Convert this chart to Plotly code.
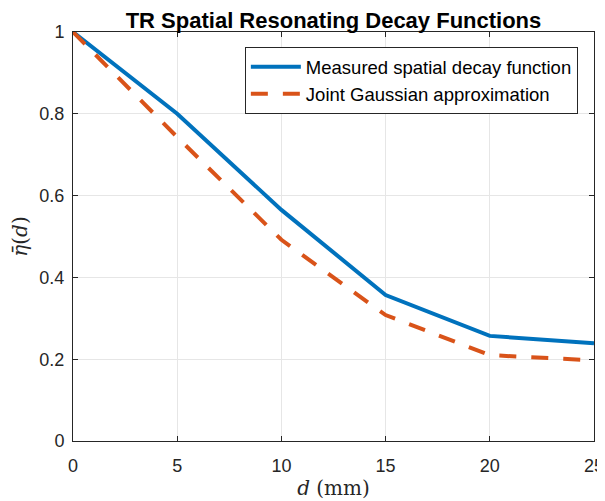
import plotly.graph_objects as go

d_mm = [0, 5, 10, 15, 20, 25]
measured = [1.0, 0.80, 0.565, 0.357, 0.257, 0.239]
gaussian = [1.0, 0.743, 0.492, 0.308, 0.210, 0.197]

fig = go.Figure()
fig.add_trace(go.Scatter(x=d_mm, y=measured, mode="lines",
                         name="Measured spatial decay function",
                         line=dict(color="#0072BD", width=4)))
fig.add_trace(go.Scatter(x=d_mm, y=gaussian, mode="lines",
                         name="Joint Gaussian approximation",
                         line=dict(color="#D95319", width=4, dash="17px,15px")))

axis_common = dict(showline=True, linecolor="#262626", linewidth=1, mirror="allticks",
                   ticks="inside", ticklen=5, tickcolor="#262626", automargin=False,
                   showgrid=True, gridcolor="#e6e6e6", gridwidth=1, zeroline=False,
                   tickfont=dict(family="Liberation Sans, Arial", size=18, color="#262626"))

# The page body has an 8px margin, so the figure is sized/offset to compensate.
fig.update_layout(
    width=597, height=493,
    margin=dict(l=65, r=11, t=24, b=60),
    paper_bgcolor="white", plot_bgcolor="white",
    title=dict(text="<b>TR Spatial Resonating Decay Functions</b>",
               font=dict(family="Liberation Sans, Arial", size=22, color="#000000"),
               x=0.5, xanchor="center", xref="paper", y=0.976, yanchor="middle", yref="container",
               automargin=False),
    xaxis=dict(range=[0, 25], tickvals=[0, 5, 10, 15, 20, 25], ticklabelstandoff=8,
               title=dict(text="<i>d</i> (mm)", standoff=6,
                          font=dict(family="DejaVu Serif, Liberation Serif", size=20, color="#262626")),
               **axis_common),
    yaxis=dict(range=[0, 1], tickvals=[0, 0.2, 0.4, 0.6, 0.8, 1], ticktext=["0", "0.2", "0.4", "0.6", "0.8", "1"],
               ticklabelstandoff=4,
               title=dict(text="<i>η̄</i>(<i>d</i>)", standoff=10,
                          font=dict(family="DejaVu Serif, Liberation Serif", size=20, color="#262626")),
               **axis_common),
    legend=dict(x=0.969, y=0.963, xanchor="right", yanchor="top",
                bgcolor="white", bordercolor="#262626", borderwidth=1,
                font=dict(family="Liberation Sans, Arial", size=18.5, color="#000000"),
                tracegroupgap=0, itemwidth=50),
    showlegend=True,
)

fig.write_html("out.html")
